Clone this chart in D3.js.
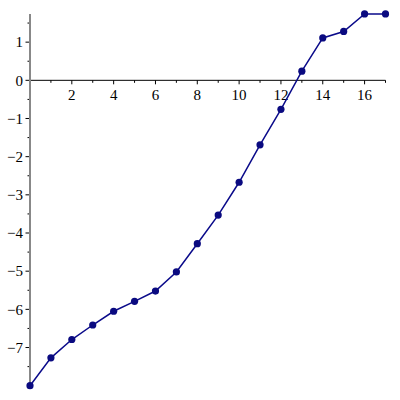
<!DOCTYPE html>
<html>
<head>
<meta charset="utf-8">
<script src="https://cdn.jsdelivr.net/npm/d3@7"></script>
<style>
  body { margin: 0; background: #fff; }
  svg { display: block; }
  .lbl { font-family: "Liberation Serif", "DejaVu Serif", serif; font-size: 15px; fill: #000; }
</style>
</head>
<body>
<svg id="chart" width="400" height="400"></svg>
<script>
'use strict';

// data
var arrX = [0, 1, 2, 3, 4, 5, 6, 7, 8, 9, 10, 11, 12, 13, 14, 15, 16, 17];
var arrY = [-8.0, -7.27, -6.79, -6.41, -6.05, -5.79, -5.52, -5.02, -4.28, -3.53,
            -2.67, -1.69, -0.76, 0.24, 1.11, 1.28, 1.74, 1.74];

var arrXMajor = [2, 4, 6, 8, 10, 12, 14, 16];
var arrXMinor = [1, 3, 5, 7, 9, 11, 13, 15, 17];
var arrYMajor = [-7, -6, -5, -4, -3, -2, -1, 0, 1];
var arrYMinor = [-7.5, -6.5, -5.5, -4.5, -3.5, -2.5, -1.5, -0.5, 0.5, 1.5];

var svg = d3.select('#chart');

var xScale = d3.scaleLinear()
  .domain([0, 17])
  .range([30, 385.5]);

var yScale = d3.scaleLinear()
  .domain([-8, 1.74])
  .range([385.7, 13.9]);

function fmt(n)
{
  return n < 0 ? '\u2212' + Math.abs(n) : String(n);
}

var nX0 = xScale(0);
var nY0 = yScale(0);

// x axis (black, along y = 0)
svg.append('line')
  .attr('x1', xScale(0)).attr('x2', xScale(17))
  .attr('y1', nY0).attr('y2', nY0)
  .attr('stroke', '#000').attr('stroke-width', 1);

svg.selectAll('line.xmaj')
  .data(arrXMajor)
  .enter()
  .append('line')
  .attr('class', 'xmaj')
  .attr('x1', function(d) { return xScale(d); })
  .attr('x2', function(d) { return xScale(d); })
  .attr('y1', nY0).attr('y2', nY0 + 4)
  .attr('stroke', '#000');

svg.selectAll('line.xmin')
  .data(arrXMinor)
  .enter()
  .append('line')
  .attr('class', 'xmin')
  .attr('x1', function(d) { return xScale(d); })
  .attr('x2', function(d) { return xScale(d); })
  .attr('y1', nY0).attr('y2', nY0 + 2.5)
  .attr('stroke', '#000');

svg.selectAll('text.xlbl')
  .data(arrXMajor)
  .enter()
  .append('text')
  .attr('class', 'lbl xlbl')
  .attr('x', function(d) { return xScale(d); })
  .attr('y', nY0 + 19.7)
  .attr('text-anchor', 'middle')
  .text(fmt);

// y axis (gray, along x = 0)
svg.selectAll('line.ymaj')
  .data(arrYMajor)
  .enter()
  .append('line')
  .attr('class', 'ymaj')
  .attr('x1', nX0 - 4.5).attr('x2', nX0)
  .attr('y1', function(d) { return yScale(d); })
  .attr('y2', function(d) { return yScale(d); })
  .attr('stroke', '#000');

svg.selectAll('line.ymin')
  .data(arrYMinor)
  .enter()
  .append('line')
  .attr('class', 'ymin')
  .attr('x1', nX0 - 2.5).attr('x2', nX0)
  .attr('y1', function(d) { return yScale(d); })
  .attr('y2', function(d) { return yScale(d); })
  .attr('stroke', '#000');

svg.append('line')
  .attr('x1', nX0).attr('x2', nX0)
  .attr('y1', yScale(1.74)).attr('y2', yScale(-8))
  .attr('stroke', '#888').attr('stroke-width', 2);

svg.selectAll('text.ylbl')
  .data(arrYMajor)
  .enter()
  .append('text')
  .attr('class', 'lbl ylbl')
  .attr('x', nX0 - 7)
  .attr('y', function(d) { return yScale(d); })
  .attr('dy', '0.35em')
  .attr('text-anchor', 'end')
  .text(fmt);

// the curve
var arrPts = arrX.map(function(x, i) { return [x, arrY[i]]; });

var line = d3.line()
  .x(function(d) { return xScale(d[0]); })
  .y(function(d) { return yScale(d[1]); });

svg.append('path')
  .datum(arrPts)
  .attr('d', line)
  .attr('fill', 'none')
  .attr('stroke', '#0a0a8a')
  .attr('stroke-width', 1.5);

svg.selectAll('circle')
  .data(arrPts)
  .enter()
  .append('circle')
  .attr('cx', function(d) { return xScale(d[0]); })
  .attr('cy', function(d) { return yScale(d[1]); })
  .attr('r', 3.6)
  .attr('fill', '#0a0a80');
</script>
</body>
</html>
